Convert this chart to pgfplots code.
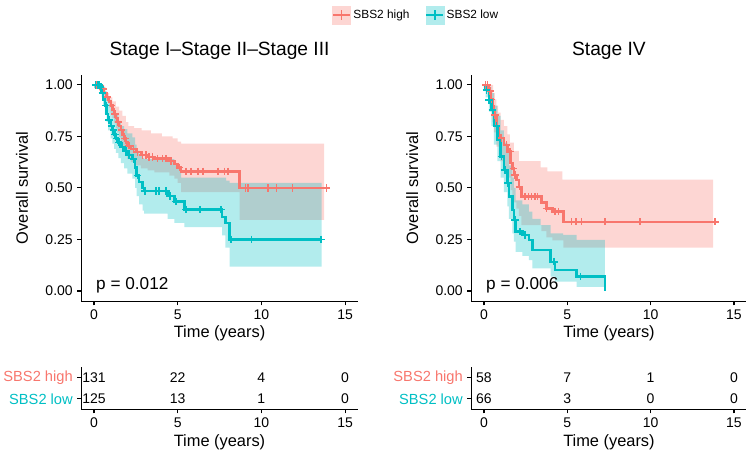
\documentclass[border=0pt]{standalone}
\usepackage{fontspec}
\setmainfont{Liberation Sans}
\usepackage{pgfplots}
\pgfplotsset{compat=1.18}
\usepgfplotslibrary{fillbetween}

\definecolor{highc}{HTML}{F8766D}
\definecolor{lowc}{HTML}{00BFC4}

\pgfplotsset{
  kmbase/.style={
    scale only axis, clip=false,
    axis x line*=bottom, axis y line*=left,
    axis line style={line width=0.8pt},
    tick style={line width=0.8pt, black},
    tick align=outside, major tick length=3pt,
    xmin=-0.75, xmax=15.75, xtick={0,5,10,15},
    /pgf/number format/assume math mode=true,
    ticklabel style={font=\fontsize{10.5}{12}\selectfont},
    xlabel={Time (years)},
    label style={font=\fontsize{12.3}{14}\selectfont},
  },
  kmmain/.style={
    kmbase, width=207.1pt, height=170pt,
    ymin=-0.05, ymax=1.05,
    ytick={0,0.25,0.5,0.75,1},
    yticklabels={0.00,0.25,0.50,0.75,1.00},
    ylabel={Overall survival},
    ylabel style={at={(axis description cs:-0.2155,0.5)}, anchor=center},
    xlabel style={at={(axis description cs:0.5,0)}, anchor=center, yshift=-24.3pt},
    title style={at={(axis description cs:0.5,1)}, anchor=center, yshift=11.8pt,
      font=\fontsize{14.4}{16}\selectfont},
  },
  kmrisk/.style={
    kmbase, width=207.1pt, height=31.5pt,
    ymin=0.5, ymax=2.5, ytick={1,2},
    yticklabels={{\color{lowc}SBS2 low},{\color{highc}SBS2 high}},
    yticklabel style={font=\fontsize{11}{13}\selectfont},
    xlabel style={at={(axis description cs:0.5,0)}, anchor=center, yshift=-24.6pt},
  },
  kmline/.style={line width=1.8pt, const plot, mark=none},
  kmcens/.style={only marks, mark=+, mark size=2.8pt, mark options={line width=1.2pt}},
  kmband/.style={draw=none, const plot, forget plot},
  risknum/.style={only marks, mark=*, mark size=0pt, mark options={draw=none, fill=none},
    nodes near coords, point meta=explicit symbolic,
    nodes near coords style={anchor=center, text=black, font=\fontsize{10.5}{12}\selectfont}},
}

\begin{document}
\begin{tikzpicture}

% ---- Stage I-III survival ----
\begin{axis}[kmmain, at={(61.09pt,113.03pt)}, anchor=south west,
  title={Stage I–Stage II–Stage III},
  legend style={at={(axis description cs:1.2135,1.2635)}, anchor=center, draw=none, fill=none,
    font=\fontsize{8.9}{10}\selectfont, legend columns=2,
    /tikz/every even column/.append style={column sep=10pt}}]
\addlegendimage{legend image code/.code={
  \fill[highc!30] (0pt,-6.75pt) rectangle (13.5pt,6.75pt);
  \draw[highc,line width=1.1pt] (0.5pt,0pt)--(13pt,0pt);
  \draw[highc,line width=1.1pt] (6.75pt,-3.5pt)--(6.75pt,3.5pt);}}
\addlegendentry{SBS2 high}
\addlegendimage{legend image code/.code={
  \fill[lowc!30] (0pt,-6.75pt) rectangle (13.5pt,6.75pt);
  \draw[lowc,line width=1.1pt] (0.5pt,0pt)--(13pt,0pt);
  \draw[lowc,line width=1.1pt] (6.75pt,-3.5pt)--(6.75pt,3.5pt);}}
\addlegendentry{SBS2 low}

% confidence bands
\addplot[kmband, name path=hu1] coordinates {
 (0,1) (0.6,0.99) (0.7,0.96) (0.9,0.94) (1.1,0.92) (1.3,0.895) (1.5,0.875) (1.7,0.85)
 (1.9,0.82) (2.05,0.80) (2.4,0.79) (2.85,0.78) (3.4,0.765) (4.05,0.75) (4.7,0.74)
 (5.0,0.725) (5.2,0.715) (13.75,0.715)};
\addplot[kmband, name path=hl1] coordinates {
 (0,0.985) (0.3,0.97) (0.5,0.95) (0.7,0.92) (0.9,0.89) (1.0,0.865) (1.1,0.84) (1.2,0.815)
 (1.3,0.79) (1.4,0.77) (1.5,0.745) (1.6,0.72) (1.7,0.70) (1.8,0.675) (1.9,0.655) (2.0,0.64)
 (2.2,0.625) (2.5,0.61) (2.8,0.595) (3.2,0.585) (3.6,0.575) (4.5,0.56) (4.8,0.545)
 (5.0,0.525) (5.2,0.48) (8.7,0.345) (13.75,0.345)};
\addplot[fill=highc, fill opacity=0.3, draw=none, forget plot] fill between[of=hu1 and hl1];
\addplot[kmband, name path=lu1] coordinates {
 (0,1) (0.45,1) (0.55,0.99) (0.65,0.97) (0.75,0.94) (0.85,0.915) (1.0,0.885) (1.2,0.855)
 (1.45,0.825) (1.6,0.80) (1.8,0.785) (2.0,0.765) (2.3,0.745) (2.45,0.71) (2.55,0.68)
 (2.7,0.655) (2.9,0.645) (3.0,0.64) (4.8,0.62) (5.0,0.60) (5.2,0.55) (7.9,0.535)
 (8.1,0.525) (13.6,0.525)};
\addplot[kmband, name path=ll1] coordinates {
 (0,0.985) (0.45,0.94) (0.55,0.90) (0.65,0.86) (0.75,0.82) (0.85,0.78) (1.0,0.74)
 (1.1,0.715) (1.2,0.69) (1.3,0.67) (1.45,0.645) (1.6,0.62) (1.8,0.595) (2.0,0.57)
 (2.3,0.545) (2.45,0.50) (2.55,0.46) (2.7,0.42) (2.9,0.39) (3.0,0.375) (4.4,0.35)
 (4.8,0.33) (5.4,0.31) (7.65,0.27) (7.85,0.21) (8.1,0.118) (13.6,0.118)};
\addplot[fill=lowc, fill opacity=0.3, draw=none, forget plot] fill between[of=lu1 and ll1];

% survival curves
\addplot[highc, kmline, forget plot] coordinates {
 (0,1) (0.25,0.99) (0.45,0.98) (0.6,0.96) (0.75,0.94) (0.9,0.92) (1.0,0.90) (1.1,0.88)
 (1.2,0.86) (1.3,0.84) (1.4,0.82) (1.5,0.80) (1.6,0.78) (1.7,0.76) (1.8,0.74) (1.9,0.72)
 (2.0,0.705) (2.2,0.69) (2.5,0.675) (2.8,0.66) (3.2,0.65) (3.6,0.642) (4.5,0.63)
 (4.8,0.615) (5.0,0.60) (5.2,0.58) (8.7,0.50) (13.9,0.50)};
\addplot[highc, kmcens, forget plot] coordinates {
 (0.15,1) (0.55,0.98) (0.8,0.94) (1.05,0.90) (1.25,0.86) (1.45,0.82) (1.65,0.78)
 (1.85,0.74) (2.1,0.705) (2.35,0.69) (2.6,0.675) (2.9,0.66) (3.1,0.66) (3.3,0.65)
 (3.5,0.65) (3.8,0.642) (4.1,0.642) (4.3,0.642) (4.6,0.63) (5.1,0.60) (5.5,0.58)
 (5.8,0.58) (6.2,0.58) (6.5,0.58) (7.4,0.58) (7.8,0.58) (8.0,0.58) (9.05,0.5)
 (9.2,0.5) (10.4,0.5) (10.9,0.5) (11.85,0.5) (13.9,0.5)};
\addplot[lowc, kmline, forget plot] coordinates {
 (0,1) (0.35,0.99) (0.45,0.96) (0.55,0.93) (0.65,0.90) (0.75,0.86) (0.85,0.83) (1.0,0.80)
 (1.1,0.78) (1.2,0.76) (1.3,0.74) (1.45,0.72) (1.6,0.70) (1.8,0.68) (2.0,0.66) (2.3,0.64)
 (2.45,0.60) (2.55,0.56) (2.7,0.53) (2.9,0.50) (3.0,0.485) (4.4,0.46) (4.8,0.435)
 (5.4,0.395) (7.65,0.36) (7.85,0.33) (8.1,0.25) (13.6,0.25)};
\addplot[lowc, kmcens, forget plot] coordinates {
 (0.1,1) (0.2,1) (0.3,1) (0.4,0.99) (0.5,0.96) (0.7,0.90) (0.9,0.83) (1.05,0.80)
 (1.15,0.78) (1.25,0.76) (1.35,0.74) (1.5,0.72) (1.7,0.70) (1.9,0.68) (2.1,0.66)
 (2.35,0.64) (2.6,0.56) (3.05,0.485) (3.7,0.485) (3.9,0.485) (4.3,0.485) (4.55,0.46)
 (4.9,0.435) (5.5,0.395) (6.35,0.395) (7.6,0.395) (8.2,0.25) (9.4,0.25) (13.55,0.25)};

\node[anchor=base west, font=\fontsize{12.9}{14}\selectfont] at (axis cs:-0.15,0.005) {p = 0.012};
\end{axis}

% ---- Stage IV survival ----
\begin{axis}[kmmain, at={(353.6pt,113.03pt)}, anchor=south west, width=206.25pt,
  title={Stage IV}]
\addplot[kmband, name path=hu2] coordinates {
 (0,1) (0.45,1) (0.55,0.96) (0.65,0.93) (0.75,0.90) (0.85,0.865) (1.0,0.83) (1.2,0.80)
 (1.4,0.76) (1.55,0.72) (1.8,0.68) (2.1,0.63) (3.4,0.60) (3.8,0.58) (4.7,0.54) (13.75,0.54)};
\addplot[kmband, name path=hl2] coordinates {
 (0,0.98) (0.3,0.93) (0.4,0.87) (0.5,0.82) (0.6,0.77) (0.75,0.70) (0.9,0.65) (1.0,0.63)
 (1.2,0.59) (1.4,0.55) (1.6,0.49) (1.7,0.46) (1.8,0.43) (1.95,0.40) (2.1,0.365)
 (2.25,0.32) (3.45,0.29) (3.75,0.26) (4.1,0.245) (4.76,0.21) (13.75,0.21)};
\addplot[fill=highc, fill opacity=0.3, draw=none, forget plot] fill between[of=hu2 and hl2];
\addplot[kmband, name path=lu2] coordinates {
 (0,1) (0.2,1) (0.3,0.99) (0.45,0.96) (0.6,0.90) (0.8,0.85) (1.0,0.78) (1.2,0.72)
 (1.4,0.67) (1.5,0.61) (1.7,0.55) (1.8,0.50) (1.9,0.44) (2.3,0.42) (2.7,0.385)
 (2.9,0.35) (3.4,0.32) (4.0,0.28) (4.75,0.272) (5.56,0.248) (7.26,0.248)};
\addplot[kmband, name path=ll2] coordinates {
 (0,0.97) (0.1,0.94) (0.3,0.87) (0.45,0.80) (0.6,0.71) (0.8,0.63) (1.0,0.55) (1.2,0.48)
 (1.4,0.41) (1.5,0.35) (1.7,0.28) (1.8,0.24) (1.9,0.19) (2.3,0.17) (2.7,0.15) (2.9,0.11)
 (4.0,0.07) (4.25,0.045) (5.56,0.02) (7.26,0.02)};
\addplot[fill=lowc, fill opacity=0.3, draw=none, forget plot] fill between[of=lu2 and ll2];

\addplot[highc, kmline, forget plot] coordinates {
 (0,1) (0.3,0.97) (0.4,0.93) (0.5,0.895) (0.6,0.854) (0.75,0.80) (0.9,0.757) (1.0,0.741)
 (1.2,0.709) (1.4,0.676) (1.6,0.62) (1.7,0.595) (1.8,0.563) (1.95,0.539) (2.1,0.506)
 (2.25,0.458) (3.45,0.43) (3.75,0.40) (4.1,0.385) (4.76,0.336) (13.96,0.336)};
\addplot[highc, kmcens, forget plot] coordinates {
 (0.1,1) (0.22,1) (0.35,0.97) (0.45,0.93) (0.65,0.854) (1.06,0.741) (1.36,0.709)
 (1.56,0.676) (1.76,0.595) (1.86,0.563) (2.12,0.506) (2.46,0.458) (2.66,0.458)
 (2.86,0.458) (3.06,0.458) (3.2,0.458) (3.76,0.40) (4.26,0.385) (4.46,0.385)
 (5.26,0.336) (5.52,0.336) (5.86,0.336) (7.22,0.336) (7.3,0.336) (9.36,0.336) (13.85,0.336)};
\addplot[lowc, kmline, forget plot] coordinates {
 (0,1) (0.1,0.976) (0.3,0.927) (0.45,0.879) (0.6,0.80) (0.8,0.733) (1.0,0.652) (1.2,0.587)
 (1.4,0.523) (1.5,0.458) (1.7,0.393) (1.8,0.345) (1.9,0.288) (2.3,0.272) (2.7,0.248)
 (2.9,0.2) (4.0,0.142) (4.25,0.102) (5.56,0.07) (7.26,0.0)};
\addplot[lowc, kmcens, forget plot] coordinates {
 (0.15,0.976) (0.3,0.927) (0.5,0.879) (0.75,0.80) (1.05,0.652) (1.25,0.587) (1.45,0.523)
 (1.85,0.345) (2.15,0.288) (2.45,0.272) (4.2,0.142) (5.8,0.07)};

\node[anchor=base west, font=\fontsize{12.9}{14}\selectfont] at (axis cs:-0.15,0.005) {p = 0.006};
\end{axis}

% ---- risk tables ----
\begin{axis}[kmrisk, at={(61.09pt,31.9pt)}, anchor=south west]
\addplot[risknum] coordinates {
 (0,2)[131] (5,2)[22] (10,2)[4] (15,2)[0]
 (0,1)[125] (5,1)[13] (10,1)[1] (15,1)[0]};
\end{axis}
\begin{axis}[kmrisk, at={(353.6pt,31.9pt)}, anchor=south west, width=206.25pt]
\addplot[risknum] coordinates {
 (0,2)[58] (5,2)[7] (10,2)[1] (15,2)[0]
 (0,1)[66] (5,1)[3] (10,1)[0] (15,1)[0]};
\end{axis}

\pgfresetboundingbox
\path (0,0) rectangle (562.5pt,339pt);
\end{tikzpicture}
\end{document}
